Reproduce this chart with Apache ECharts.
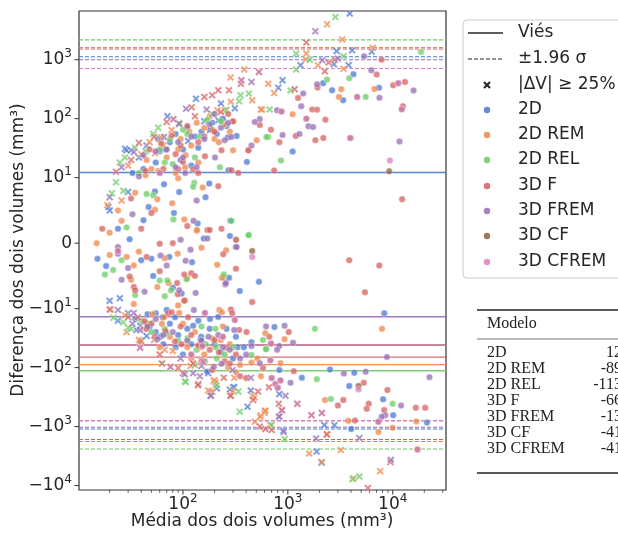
<!DOCTYPE html>
<html>
<head>
<meta charset="utf-8">
<script src="https://cdn.jsdelivr.net/npm/echarts@6/dist/echarts.min.js"></script>
<style>
  html, body { margin: 0; padding: 0; background: #fff; }
  #chart { width: 618px; height: 534px; }
</style>
</head>
<body>
<div id="chart"></div>
<script>
// ---- Bland–Altman data: [média, diferença, marcador X quando |ΔV| ≥ 25%] ----
const models = ['2D', '2D REM', '2D REL', '3D F', '3D FREM', '3D CF', '3D CFREM'];
const colors = ['#4878d0', '#ee854a', '#6acc64', '#d65f5f', '#956cb4', '#8c613c', '#dc7ec0'];
const bias = [12.21, -89.04, -113.08, -66.42, -13.71, -41.28, -41.46];
const loa196 = [1110, 1700, 2280, 1586, 1010, 750, 750];

const pts2D = [
  [3890,6050,1],[2920,1400,1],[4100,1440,1],[6300,1370,1],[1320,805,1],[2750,840,1],[3800,805,1],[890,449,1],
  [810,335,1],[133,218,1],[230,180,1],[312,150,1],[71,110,1],[92,81,1],[217,94,1],[181,64,1],[112,42,1],
  [28,31,1],[29,29,1],[32,29,1],[30,7.8,1],[19.4,5.5,1],[20,5.0,1],[20,-8.8,1],[25,-8.4,1],[24,-16,1],
  [30,-12,1],[39,-19.5,1],[36,-23,1],[45,-29,1],[63,-85,1],[174,-125,1],[210,-225,1],[300,-215,1],
  [308,-215,1],[280,-235,1],[443,-245,1],[413,-460,1],[830,-280,1],[910,-1170,1],[2230,-940,1],
  [2780,-950,1],[1880,-2650,1],[2100,-4100,1],[38,22,1],[45,35,1],[160,90,1],[40,-35,1],
  [4220,567],[2170,400],[2640,304],[3370,206],[7400,335],[1110,27.7],[407,18.5],[325,51],[268,48],
  [272,13.4],[182,65],[178,9.1],[164,7.0],[92,7.8],[66,9.0],[54,7.9],[47,5.5],[82,4.6],[280,1.1],
  [283,3.4],[158,0.7],[138,3.0],[42,3.5],[24,2.2],[31,0.6],[15.3,-2.4],[18.5,-3.5],[40,-2.6],[50,-2.4],
  [74,-2.1],[122,-2.9],[52,-5.0],[80,-6.8],[97,-7.7],[275,-5.3],[348,-7.3],[530,-5.9],[217,-13.8],
  [181,-15],[125,-19.5],[84,-14],[64,-14],[46,-12.4],[48,-20.5],[61,-30],[120,-40],[149,-30],[147,-34],
  [331,-45],[381,-45],[450,-37],[170,-117],[745,-20.5],[830,-110],[1360,-148],[2520,-108],[4300,-122],
  [3850,-205],[8100,-345],[10100,-640],[4020,-1100],[21200,-850],[8300,-12],
  [60,28],[75,40],[150,60],[190,85],[240,100],[100,30],[55,18],[130,50],
  [35,-15],[55,-25],[90,-28],[200,-40],[260,-22],[100,-60],[65,-40],[300,-70],
  [58,45],[68,30],[85,55],[110,70],[140,32],[210,55],[260,75],[33,12],[42,14],[120,16],[95,20],
  [75,-18],[110,-22],[140,-16],[85,-45],[230,-55],[180,-22],[320,-30],[55,-12],[70,-10.5]
];
const pts2DREM = [
  [2370,3990,1],[3300,2210,1],[1500,1270,1],[1480,1020,1],[1940,805,1],[6460,1600,1],[3400,700,1],
  [650,390,1],[740,273,1],[570,143,1],[384,680,1],[284,498,1],[286,193,1],[250,139,1],[457,206,1],
  [553,143,1],[213,139,1],[78,64,1],[65,35,1],[54,26,1],[48,40,1],[19,5.8,1],[26,6.5,1],[20.5,-10.3,1],
  [29,-25,1],[38,-34,1],[53,-34,1],[67,-50,1],[63,-85,1],[118,-94,1],[196,-170,1],[200,-163,1],
  [204,-180,1],[182,-255,1],[308,-148,1],[174,-245,1],[191,-260,1],[300,-250,1],[460,-300,1],
  [480,-320,1],[484,-830,1],[553,-640,1],[600,-590,1],[606,-540,1],[545,-690,1],[680,-940,1],
  [610,-540,1],[2370,-1380,1],[3200,-2500,1],[1600,-2850,1],[2100,-4000,1],[4230,-7500,1],[7600,-5700,1],
  [30,16,1],[40,25,1],[62,48,1],[28,-13,1],[42,-22,1],[80,-52,1],
  [3230,315],[3070,234],[6700,320],[1110,119],[505,43],[422,29],[300,29],[154,8.5],[79,6.1],[90,9.9],
  [106,24],[35,7.7],[57,6.7],[54,5.1],[24,5.0],[103,3.6],[135,1.9],[136,2.0],[26,3.4],[20,1.6],[15,0],
  [20,-1.8],[29,-2.1],[34,-3.4],[32,-5.6],[38,-1.3],[67,-2.3],[89,-1.6],[110,-5.4],[57,-6.7],[73,-6.1],
  [104,-8.7],[90,-9.5],[150,-0.7],[258,-1.1],[212,-3.3],[244,-5.2],[235,-5.3],[222,-10.5],[235,-11.5],
  [34,-9.3],[51,-12.4],[63,-18],[92,-11.8],[230,-34],[110,-45],[39,-36],[513,-70],[450,-82],[553,-140],
  [610,-26],[930,-33],[850,-84],[7900,-22],[2260,-355],[3770,-800],[7300,-1230],[9970,-1050],[16800,-820],
  [45,20],[70,22],[95,45],[120,35],[160,70],[200,45],[140,18],[85,12],[250,80],[180,110],
  [45,-18],[75,-30],[130,-25],[160,-60],[280,-40],[350,-90],[60,-45],
  [50,14],[90,30],[115,60],[135,85],[190,65],[220,40],[280,60],[300,90],[44,11],[58,13],[105,15],
  [66,-14],[100,-18],[150,-45],[190,-32],[240,-20],[120,-70],[270,-100],[320,-120]
];
const pts2DREL = [
  [2840,5300,1],[1200,1270,1],[1620,1000,1],[3400,1150,1],[1200,680,1],[1060,300,1],[670,143,1],
  [354,250,1],[425,266,1],[343,197,1],[260,140,1],[92,85,1],[58,70,1],[35,32,1],[25,18,1],[23,9.3,1],
  [27,8.0,1],[21,7.6,1],[21.7,-14.3,1],[27,-17,1],[30,-21,1],[32,-22,1],[48,-17.5,1],[104,-170,1],
  [106,-175,1],[209,-200,1],[337,-255,1],[348,-560,1],[700,-940,1],[930,-1620,1],[4150,-7800,1],[4800,-7000,1],
  [28,22,1],[44,28,1],[52,55,1],[190,120,1],[130,-90,1],
  [3850,485],[2360,461],[5520,234],[18600,1350],[650,49],[860,19.5],[625,49],[225,15],[128,9.2],[125,8.6],
  [52,7.3],[45,7.5],[81,3.6],[290,3.4],[425,1.3],[322,0.5],[422,1.2],[29,2.4],[18,-4.8],[21.6,-4.1],
  [26,-2.6],[35,-7.9],[71,-5.7],[60,-5.7],[77,-7.2],[67,-8.1],[108,-5.5],[245,-4.8],[204,-22],[206,-45],
  [135,-50],[67,-22],[162,-77],[450,-61],[580,-34],[616,-48],[620,-49],[1810,-22],[1890,-157],[2570,-340],
  [9970,-410],
  [60,30],[110,55],[170,95],[130,22],[80,17],[50,-25],[90,-35],[150,-20],[250,-60],
  [75,45],[100,65],[145,50],[230,90],[38,12],[67,18],[40,-16],[70,-26],[110,-32],[165,-40],[210,-70],[300,-45]
];
const pts3DF = [
  [1500,1950,1],[2450,900,1],[2800,1000,1],[2250,637,1],[1160,316,1],[357,390,1],[217,304,1],[275,304,1],
  [160,234,1],[190,250,1],[121,156,1],[70,88,1],[53,49,1],[38,39,1],[23,12.6,1],[20,-10.3,1],[37,-14,1],
  [90,-101,1],[100,-125,1],[140,-190,1],[139,-200,1],[245,-148,1],[282,-300,1],[286,-300,1],[520,-255,1],
  [467,-355,1],[540,-1000,1],[700,-1140,1],[870,-525,1],[660,-215,1],[820,-410,1],[610,-1100,1],
  [2350,-1350,1],[5800,-11000,1],[9500,-4000,1],[32,20,1],[130,110,1],[230,130,1],[30,-14,1],[125,-85,1],[60,-60,1],
  [1920,337],[7020,560],[7840,1000],[10100,369],[13100,420],[12500,163],[1250,225],[1710,143],[1900,142],
  [2280,96],[1190,51],[1830,43],[2180,47],[690,65],[830,40],[740,13.2],[12300,6.7],[540,78],[420,29],
  [337,12],[233,29],[290,13.4],[162,23],[125,13.8],[217,8.7],[100,18.5],[32,6.8],[50,4.6],[110,2.6],
  [171,2.0],[180,2.0],[233,2.2],[320,0.5],[40,2.2],[17,2.2],[60,-0.1],[80,0],[31,-5.1],[34,-6.7],[35,-7.2],
  [45,-2.1],[60,-4.3],[120,-4.6],[103,-4.8],[88,-6.1],[89,-7.8],[103,-8.8],[130,-5.0],[242,-1.7],[320,-3.9],
  [457,-9.0],[286,-10.3],[295,-12],[72,-12],[78,-11.5],[112,-14],[200,-34],[343,-23],[404,-25],[260,-46],
  [580,-101],[250,-78],[150,-75],[43,-16.3],[54,-30],[84,-36],[97,-40],[665,-30],[1020,-25],[1140,-115],
  [5300,-180],[8900,-240],[3380,-355],[3000,-440],[5900,-410],[5650,-500],[8300,-525],[16600,-480],
  [20400,-480],[4360,-790],[3850,-2.6],[7450,-3.4],[5430,-7.5],
  [85,25],[140,40],[200,60],[65,14],[270,120],[110,75],[45,-22],[120,-28],[180,-50],[320,-60],[400,-150],
  [48,30],[62,38],[78,52],[95,35],[160,50],[300,90],[44,13],[90,14],[140,12],
  [50,-18],[68,-24],[95,-20],[140,-42],[220,-55],[280,-85],[190,-110],[350,-140]
];
const pts3DFREM = [
  [1830,3030,1],[2130,980,1],[3000,1050,1],[450,420,1],[107,148,1],[168,143,1],[92,82,1],[66,49,1],
  [34,27.3,1],[20,7,1],[24,-10.5,1],[34,-11.8,1],[39,-23,1],[104,-130,1],[125,-125,1],[145,-140,1],
  [150,-94,1],[297,-110,1],[443,-148,1],[182,-300,1],[185,-300,1],[950,-300,1],[820,-690,1],[830,-670,1],
  [910,-1240,1],[1860,-1590,1],[4800,-1560,1],[9600,-3650,1],[26,15,1],[33,-18,1],[95,-70,1],
  [1900,384],[5330,1150],[6250,660],[7470,226],[15800,300],[1400,266],[1340,163],[790,139],[1570,74.5],
  [1740,72],[1290,55],[890,53],[11600,41],[540,99],[484,88],[450,35],[290,49],[250,43],[202,22],[135,15],
  [85,15],[135,6.5],[33,4.4],[126,3.4],[95,0.5],[171,0.7],[24,-0.6],[118,-1],[318,-0.6],[24,-1.6],
  [30,-3.8],[26,-5.6],[43,-7.4],[61,-1.9],[70,-3.4],[106,-2.7],[92,-7.2],[132,-7.6],[253,-6.3],[256,-6.1],
  [325,-0.6],[127,-10.5],[217,-28],[308,-23],[400,-60],[450,-43],[540,-84],[233,-86],[197,-97],[57,-33],
  [620,-20],[930,-19.5],[1120,-38],[830,-43],[790,-50],[1060,-180],[3420,-126],[5520,-117],[8800,-66],
  [22400,-145],[12000,-440],[8500,-640],[7850,-680],
  [70,30],[160,45],[230,70],[100,22],[55,-15],[80,-25],[150,-35],[280,-50],
  [42,24],[55,28],[90,40],[120,50],[180,80],[200,120],[270,85],[38,10.5],[105,12],
  [46,-20],[65,-28],[110,-35],[175,-30],[240,-45],[350,-70]
];
const pts3DCF = [
  [530,620,1],[360,449,1],[81,98,1],[39,-46,1],[76,-98,1],[156,-80,1],[1230,-410,1],[880,-530,1],
  [1680,-640,1],[2110,-590,1],
  [12200,144],[11300,400],[4580,234],[3940,47],[1500,100],[870,132],[9250,12.8],[457,-1.2],[162,-11.8],
  [312,-15.6],[153,-43],[690,-39],[680,-75],[700,-150],[760,-190],[800,-220],[850,-165],[4720,-205],
  [7300,-830],[17200,-2440],[24,-1.2],[120,-60],[240,-30],[60,12]
];
const pts3DCFREM = [
  [530,620,1],[360,449,1],[81,98,1],[39,-46,1],[76,-98,1],[156,-80,1],[1230,-410,1],[880,-530,1],
  [1680,-640,1],[2110,-590,1],
  [12200,144],[11300,400],[4580,234],[3940,47],[1500,100],[870,132],[9400,19.5],[457,-2.1],[162,-11.8],
  [312,-15.6],[153,-43],[690,-39],[680,-75],[700,-150],[760,-190],[800,-220],[850,-165],[4720,-235],
  [7300,-830],[17200,-2440],[24,-1.2],[120,-60],[240,-30],[60,12]
];
const seriesPts = [pts2D, pts2DREM, pts2DREL, pts3DF, pts3DFREM, pts3DCF, pts3DCFREM];

// ---- axes ----
const xMin = 10.2, xMax = 32200;
const yMin = -11900, yMax = 6700;
const xTicks = [100, 1000, 10000];
const xTickLabels = ['10^2', '10^3', '10^4'];
const xMinorTicks = [20,30,40,50,60,70,80,90,200,300,400,500,600,700,800,900,
                     2000,3000,4000,5000,6000,7000,8000,9000,20000,30000];
const yTicks = [-10000, -1000, -100, -10, 0, 10, 100, 1000];
const yTickLabels = ['−10^4', '−10^3', '−10^2', '−10^1', '0', '10^1', '10^2', '10^3'];

// log10 for x, symmetric log (linthresh 10, linscale 1) for y
const LINTHRESH = 10;
const LINSCALE = 1 / (1 - 1 / 10);
const lx = v => Math.log10(v);
function sy(v) {
  const a = Math.abs(v);
  if (a <= LINTHRESH) return v / LINTHRESH * LINSCALE;
  return Math.sign(v) * (LINSCALE + Math.log10(a / LINTHRESH));
}

const FONT = '"DejaVu Sans", sans-serif';
const INK = '#262626';
const TICK = '#333333';
const XMARK = 'path://M2,0L5,3L8,0L10,2L7,5L10,8L8,10L5,7L2,10L0,8L3,5L0,2Z';

function supLabel(s) {
  const parts = s.split('^');
  return parts.length > 1 ? '{b|' + parts[0] + '}{s|' + parts[1] + '}' : '{b|' + parts[0] + '}';
}
const tickRich = {
  b: { fontFamily: FONT, fontSize: 17, lineHeight: 24, color: INK },
  s: { fontFamily: FONT, fontSize: 12, lineHeight: 12, color: INK, verticalAlign: 'top' }
};
function lookup(vals, labels, tf) {
  return v => {
    const i = vals.findIndex(t => Math.abs(tf(t) - v) < 1e-6);
    return i >= 0 ? supLabel(labels[i]) : '';
  };
}

// horizontal reference lines: bias (solid) and bias ± 1.96σ (dashed)
function hline(name, value, color, dashed) {
  return {
    type: 'line', name: name, xAxisIndex: 0, yAxisIndex: 0,
    data: [[lx(xMin), sy(value)], [lx(xMax), sy(value)]],
    showSymbol: false, symbol: 'none', silent: true, z: 2,
    lineStyle: dashed ? { color: color, width: 1.1, type: [4, 2], opacity: 1 }
                      : { color: color, width: 1.4, type: 'solid', opacity: 0.9 },
    emphasis: { disabled: true }
  };
}
const lineSeries = [];
models.forEach((m, i) => {
  lineSeries.push(hline(m + ' viés', bias[i], colors[i], false));
  lineSeries.push(hline(m + ' +1.96σ', bias[i] + loa196[i], colors[i], true));
  lineSeries.push(hline(m + ' −1.96σ', bias[i] - loa196[i], colors[i], true));
});

const scatterSeries = models.map((name, i) => ({
  type: 'scatter',
  name: name,
  xAxisIndex: 0,
  yAxisIndex: 0,
  data: seriesPts[i].map(p => [lx(p[0]), sy(p[1]), p[2] || 0]),
  symbol: v => (v[2] ? XMARK : 'circle'),
  symbolSize: v => (v[2] ? 7.5 : 6.5),
  itemStyle: { color: colors[i], opacity: 0.75, borderColor: '#ffffff', borderWidth: 0.5 },
  emphasis: { disabled: true },
  z: 3
}));

// ---- legend & table drawn as graphics ----
const graphics = [];
const legRows = [33, 59, 85, 110, 135, 160, 186, 211, 236, 262];
graphics.push({
  type: 'rect', shape: { x: 463, y: 20, width: 180, height: 258, r: 4 },
  style: { fill: 'rgba(255,255,255,0.85)', stroke: '#cccccc', lineWidth: 1 }, z: 10
});
graphics.push({ type: 'line', shape: { x1: 468, y1: legRows[0], x2: 503, y2: legRows[0] },
  style: { stroke: INK, lineWidth: 1.4 }, z: 11 });
graphics.push({ type: 'line', shape: { x1: 468, y1: legRows[1], x2: 503, y2: legRows[1] },
  style: { stroke: INK, lineWidth: 1, lineDash: [4, 2] }, z: 11 });
(function () {
  const s = 7.5, cx = 487, cy = legRows[2];
  const base = [[2,0],[5,3],[8,0],[10,2],[7,5],[10,8],[8,10],[5,7],[2,10],[0,8],[3,5],[0,2]];
  graphics.push({ type: 'polygon',
    shape: { points: base.map(p => [cx - s / 2 + p[0] * s / 10, cy - s / 2 + p[1] * s / 10]) },
    style: { fill: INK }, z: 11 });
})();
const legTexts = ['Viés', '±1.96 σ', '|ΔV| ≥ 25%'].concat(models);
legTexts.forEach((t, k) => {
  graphics.push({ type: 'text', x: 518, y: legRows[k], z: 11,
    style: { text: t, font: '17px ' + FONT, fill: INK, align: 'left', verticalAlign: 'middle' } });
});
models.forEach((m, i) => {
  graphics.push({ type: 'circle', shape: { cx: 487, cy: legRows[3 + i], r: 3.2 },
    style: { fill: colors[i], opacity: 0.85 }, z: 11 });
});

// axis titles
graphics.push({ type: 'text', x: 262, y: 522, z: 5,
  style: { text: 'Média dos dois volumes (mm³)', font: '17px ' + FONT, fill: INK, align: 'center', verticalAlign: 'middle' } });
graphics.push({ type: 'text', x: 19, y: 250, rotation: Math.PI / 2, z: 5,
  style: { text: 'Diferença dos dois volumes (mm³)', font: '17px ' + FONT, fill: INK, align: 'center', verticalAlign: 'middle' } });

// table of biases
const TFONT = '16px "Liberation Serif", "DejaVu Serif", serif';
graphics.push({ type: 'line', shape: { x1: 477, y1: 310, x2: 640, y2: 310 }, style: { stroke: '#222', lineWidth: 1.6 } });
graphics.push({ type: 'line', shape: { x1: 477, y1: 339, x2: 640, y2: 339 }, style: { stroke: '#777', lineWidth: 1.2 } });
graphics.push({ type: 'line', shape: { x1: 477, y1: 473, x2: 640, y2: 473 }, style: { stroke: '#222', lineWidth: 1.6 } });
graphics.push({ type: 'text', x: 487, y: 324,
  style: { text: 'Modelo', font: TFONT, fill: '#222', align: 'left', verticalAlign: 'middle' } });
models.forEach((m, i) => {
  const y = 353 + i * 16;
  graphics.push({ type: 'text', x: 487, y: y,
    style: { text: m, font: TFONT, fill: '#222', align: 'left', verticalAlign: 'middle' } });
  graphics.push({ type: 'text', x: 642, y: y,
    style: { text: bias[i].toFixed(2), font: TFONT, fill: '#222', align: 'right', verticalAlign: 'middle' } });
});

const chart = echarts.init(document.getElementById('chart'), null, { renderer: 'canvas' });
const option = {
  animation: false,
  backgroundColor: '#ffffff',
  grid: { left: 79, right: 172, top: 11, bottom: 44, show: true, borderColor: TICK, borderWidth: 1.2, backgroundColor: 'transparent' },
  xAxis: {
    type: 'value', min: lx(xMin), max: lx(xMax), position: 'bottom',
    axisLine: { show: false, onZero: false }, splitLine: { show: false }, axisTick: { show: false },
    axisLabel: { customValues: xTicks.map(lx), formatter: lookup(xTicks, xTickLabels, lx), rich: tickRich, margin: 3 }
  },
  yAxis: {
    type: 'value', min: sy(yMin), max: sy(yMax), position: 'left',
    axisLine: { show: false, onZero: false }, splitLine: { show: false }, axisTick: { show: false },
    axisLabel: { customValues: yTicks.map(sy), formatter: lookup(yTicks, yTickLabels, sy), rich: tickRich, margin: 7 }
  },
  series: lineSeries.concat(scatterSeries),
  graphic: graphics
};
chart.setOption(option);

// tick marks placed through the grid's own coordinate conversion
const toPx = (x, y) => chart.convertToPixel({ gridIndex: 0 }, [x, y]);
const bottomY = toPx(lx(xMin), sy(yMin))[1];
const leftX = toPx(lx(xMin), sy(yMin))[0];
xTicks.forEach(v => {
  const px = toPx(lx(v), sy(yMin))[0];
  graphics.push({ type: 'line', shape: { x1: px, y1: bottomY, x2: px, y2: bottomY + 4.5 }, style: { stroke: TICK, lineWidth: 1 } });
});
xMinorTicks.forEach(v => {
  const px = toPx(lx(v), sy(yMin))[0];
  graphics.push({ type: 'line', shape: { x1: px, y1: bottomY, x2: px, y2: bottomY + 2.8 }, style: { stroke: TICK, lineWidth: 0.8 } });
});
yTicks.forEach(v => {
  const py = toPx(lx(xMin), sy(v))[1];
  graphics.push({ type: 'line', shape: { x1: leftX - 4.5, y1: py, x2: leftX, y2: py }, style: { stroke: TICK, lineWidth: 1 } });
});
chart.setOption({ graphic: graphics });
</script>
</body>
</html>
